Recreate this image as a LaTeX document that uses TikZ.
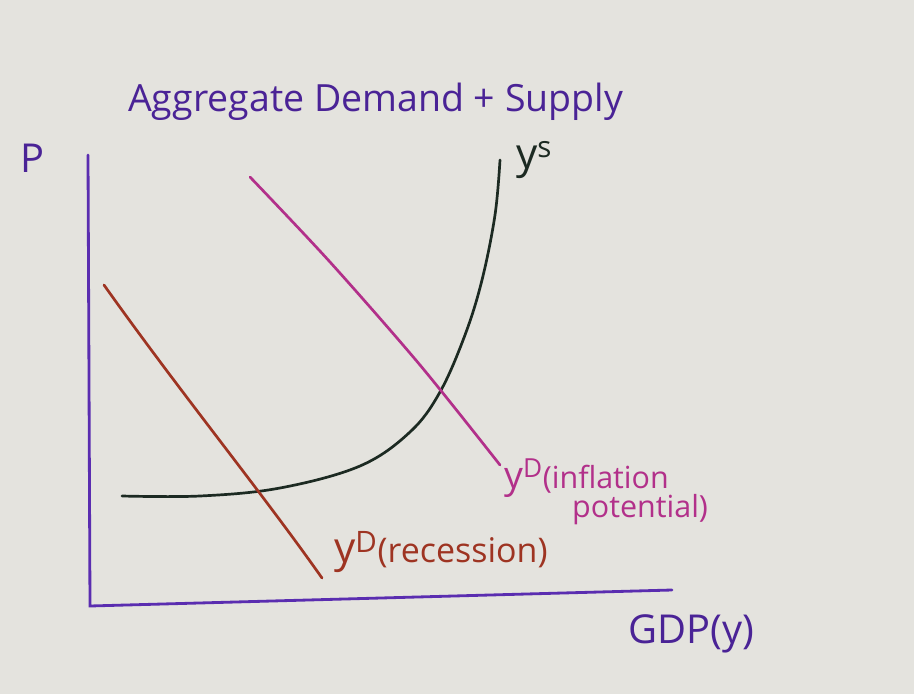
\documentclass[tikz,border=0pt]{standalone}
\usepackage{fontspec}
\setmainfont{Open Sans}
\definecolor{paper}{HTML}{E4E3DE}
\definecolor{axisc}{HTML}{5A2DB0}
\definecolor{titlec}{HTML}{4A2396}
\definecolor{supc}{HTML}{1C2A22}
\definecolor{recc}{HTML}{9E3422}
\definecolor{infc}{HTML}{B2308A}
\newcommand{\fs}[1]{\fontsize{#1}{#1}\selectfont}
\begin{document}
\begin{tikzpicture}[x=0.03cm,y=-0.03cm,
  axisline/.style={draw=axisc,line width=2.4pt,line cap=round},
  curve/.style={line width=2.3pt,line cap=round,line join=round},
  lbl/.style={inner sep=0pt}]
\fill[paper] (0,0) rectangle (914,694);
\useasboundingbox (0,0) rectangle (914,694);
% title
\node[lbl,text=titlec,anchor=west] (title) at (128,102) {\fs{32}Aggregate Demand + Supply};
\node[lbl,text=titlec] (plabel) at (32,158) {\fs{34}P};
% axes
\coordinate (ytop) at (88,155);
\coordinate (origin) at (90,606);
\coordinate (xend) at (672,590);
\draw[axisline] (ytop) -- (origin) -- (xend);
\node[lbl,text=titlec,anchor=west] (xlabel) at (628,634) {\fs{34}GDP(y)};
% supply
\draw[curve,supc] plot[smooth,tension=0.6] coordinates {(122,496) (200,496) (280,488) (360,466) (410,432) (440,392) (465,335) (482,280) (495,215) (500,160)};
\node[lbl,text=supc,anchor=west] (ys) at (516,160) {\fs{36}y\textsuperscript{s}};
% AD recession
\draw[curve,recc] (104,285) .. controls (180,392) and (260,490) .. (322,578);
\node[lbl,text=recc,anchor=west] (ydrec) at (334,552) {\fs{36}y\textsuperscript{D}\fs{29}(recession)};
% AD inflation
\draw[curve,infc] plot[smooth,tension=0.5] coordinates {(250,177) (330,262) (420,365) (500,465)};
\node[lbl,text=infc,anchor=west] (ydinf) at (504,478) {\fs{32}y\textsuperscript{D}\fs{26}(inflation};
\node[lbl,text=infc,anchor=west] (pot) at (572,510) {\fs{26}potential)};
\end{tikzpicture}
\end{document}
